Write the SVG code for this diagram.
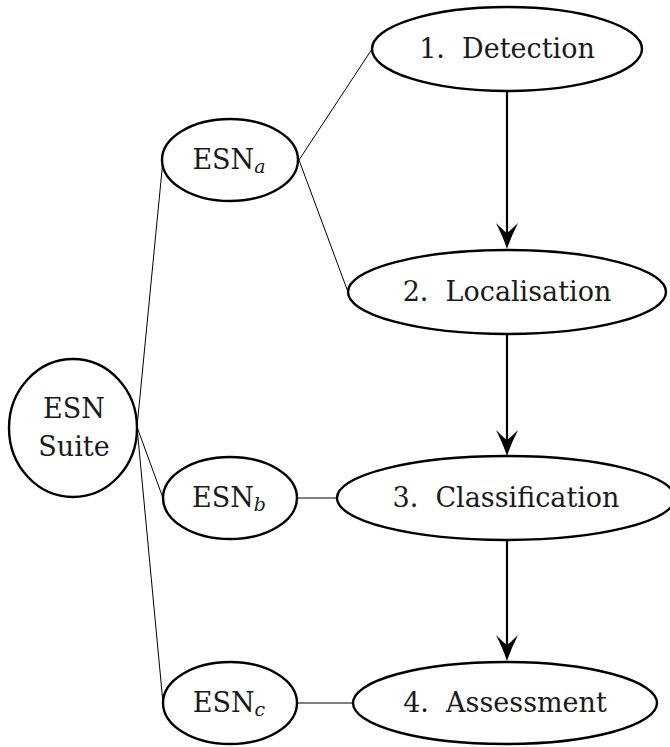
<svg xmlns="http://www.w3.org/2000/svg" width="670" height="747" viewBox="0 0 670 747">
  <style>
    .node { fill: #fff; stroke: #000; stroke-width: 2.4; }
    text { font-family: 'DejaVu Serif', 'Liberation Serif', serif; font-size: 27px; fill: #1a1a1a; text-anchor: middle; }
    .sub { font-style: italic; font-size: 19px; }
    .thin { stroke: #000; stroke-width: 1; fill: none; }
    .arrow { stroke: #000; stroke-width: 2.2; fill: none; marker-end: url(#stealth); }
  </style>
  <defs>
    <marker id="stealth" markerUnits="userSpaceOnUse" markerWidth="40" markerHeight="30" viewBox="-20 -15 40 30" refX="0" refY="0" orient="auto" overflow="visible">
      <path d="M12,0 Q0,-4 -14,-11 Q-6,-3 -4,0 Q-6,3 -14,11 Q0,4 12,0 Z" fill="#000"/>
    </marker>
  </defs>
  <g id="connectors">
    <line class="thin" x1="137" y1="427" x2="163" y2="160"/>
    <line class="thin" x1="137" y1="427" x2="163" y2="498"/>
    <line class="thin" x1="137" y1="427" x2="163" y2="703"/>
    <line class="thin" x1="299" y1="160" x2="372" y2="49"/>
    <line class="thin" x1="299" y1="160" x2="348" y2="292"/>
    <line class="thin" x1="297" y1="498" x2="337" y2="498"/>
    <line class="thin" x1="297" y1="703" x2="353" y2="703"/>
    <line class="arrow" x1="507" y1="91" x2="507" y2="237"/>
    <line class="arrow" x1="507" y1="334" x2="507" y2="444"/>
    <line class="arrow" x1="507" y1="540" x2="507" y2="649"/>
  </g>
  <g id="esn-suite">
    <ellipse class="node" cx="73" cy="428" rx="64" ry="69"/>
    <text x="74" y="418">ESN</text>
    <text x="74" y="456">Suite</text>
  </g>
  <g id="esn-a">
    <ellipse class="node" cx="230" cy="160" rx="68" ry="41"/>
    <text x="229" y="169">ESN<tspan class="sub" dy="4">a</tspan></text>
  </g>
  <g id="esn-b">
    <ellipse class="node" cx="230" cy="498" rx="67" ry="41"/>
    <text x="229" y="507">ESN<tspan class="sub" dy="4">b</tspan></text>
  </g>
  <g id="esn-c">
    <ellipse class="node" cx="230" cy="703" rx="67" ry="41"/>
    <text x="229" y="712">ESN<tspan class="sub" dy="4">c</tspan></text>
  </g>
  <g id="detection">
    <ellipse class="node" cx="507" cy="49" rx="135" ry="42"/>
    <text x="507" y="58" xml:space="preserve">1.  Detection</text>
  </g>
  <g id="localisation">
    <ellipse class="node" cx="507" cy="292" rx="159" ry="42"/>
    <text x="507" y="301" xml:space="preserve">2.  Localisation</text>
  </g>
  <g id="classification">
    <ellipse class="node" cx="506" cy="498" rx="169" ry="42"/>
    <text x="506" y="507" xml:space="preserve">3.  Classification</text>
  </g>
  <g id="assessment">
    <ellipse class="node" cx="505" cy="703" rx="152" ry="41"/>
    <text x="505" y="712" xml:space="preserve">4.  Assessment</text>
  </g>
</svg>
